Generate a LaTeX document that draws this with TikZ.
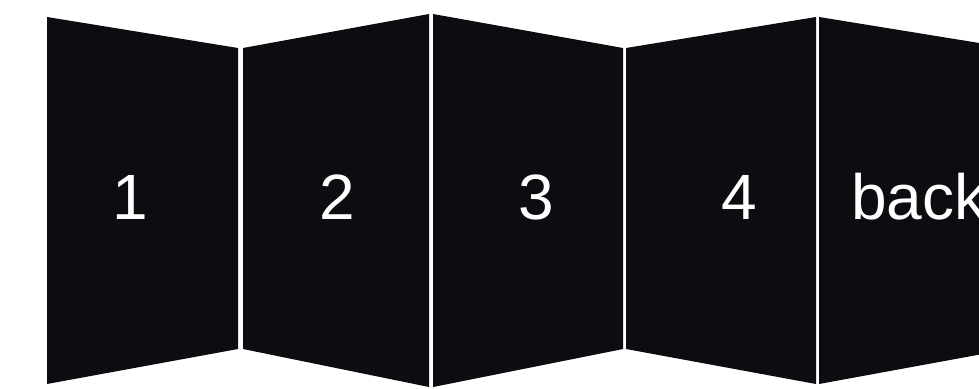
\documentclass[tikz,border=0pt]{standalone}
\usepackage{fontspec}
\setmainfont{Liberation Sans}
\usetikzlibrary{positioning}
\definecolor{panelblack}{RGB}{13,13,17}

\begin{document}
\begin{tikzpicture}[
    x = 1pt, y = -1pt,
    panel/.style={fill=panelblack},
    num/.style={text=white, inner sep=0pt, anchor=base, font=\fontsize{64}{64}\selectfont}
]
    \clip (0,0) rectangle (979,388);
    \fill[white] (0,0) rectangle (979,388);

    % the folded panels
    \fill[panel] (47,17) -- (238,48) -- (238,349) -- (47,384) -- cycle;
    \fill[panel] (243,48) -- (429,14) -- (429,387) -- (243,349) -- cycle;
    \fill[panel] (433,14) -- (623,48) -- (623,349) -- (433,387) -- cycle;
    \fill[panel] (626,48) -- (816,17) -- (816,384) -- (626,349) -- cycle;
    \fill[panel] (819,17) -- (1010,48) -- (1010,349) -- (819,384) -- cycle;

    % page numbers
    \node[num] (one) at (130,219) {1};
    \node[num] (two) at (337,219) {2};
    \node[num] (three) at (536,219) {3};
    \node[num] (four) at (739,219) {4};
    \node[num, anchor=base west] (back) at (851,219) {back};
\end{tikzpicture}
\end{document}
